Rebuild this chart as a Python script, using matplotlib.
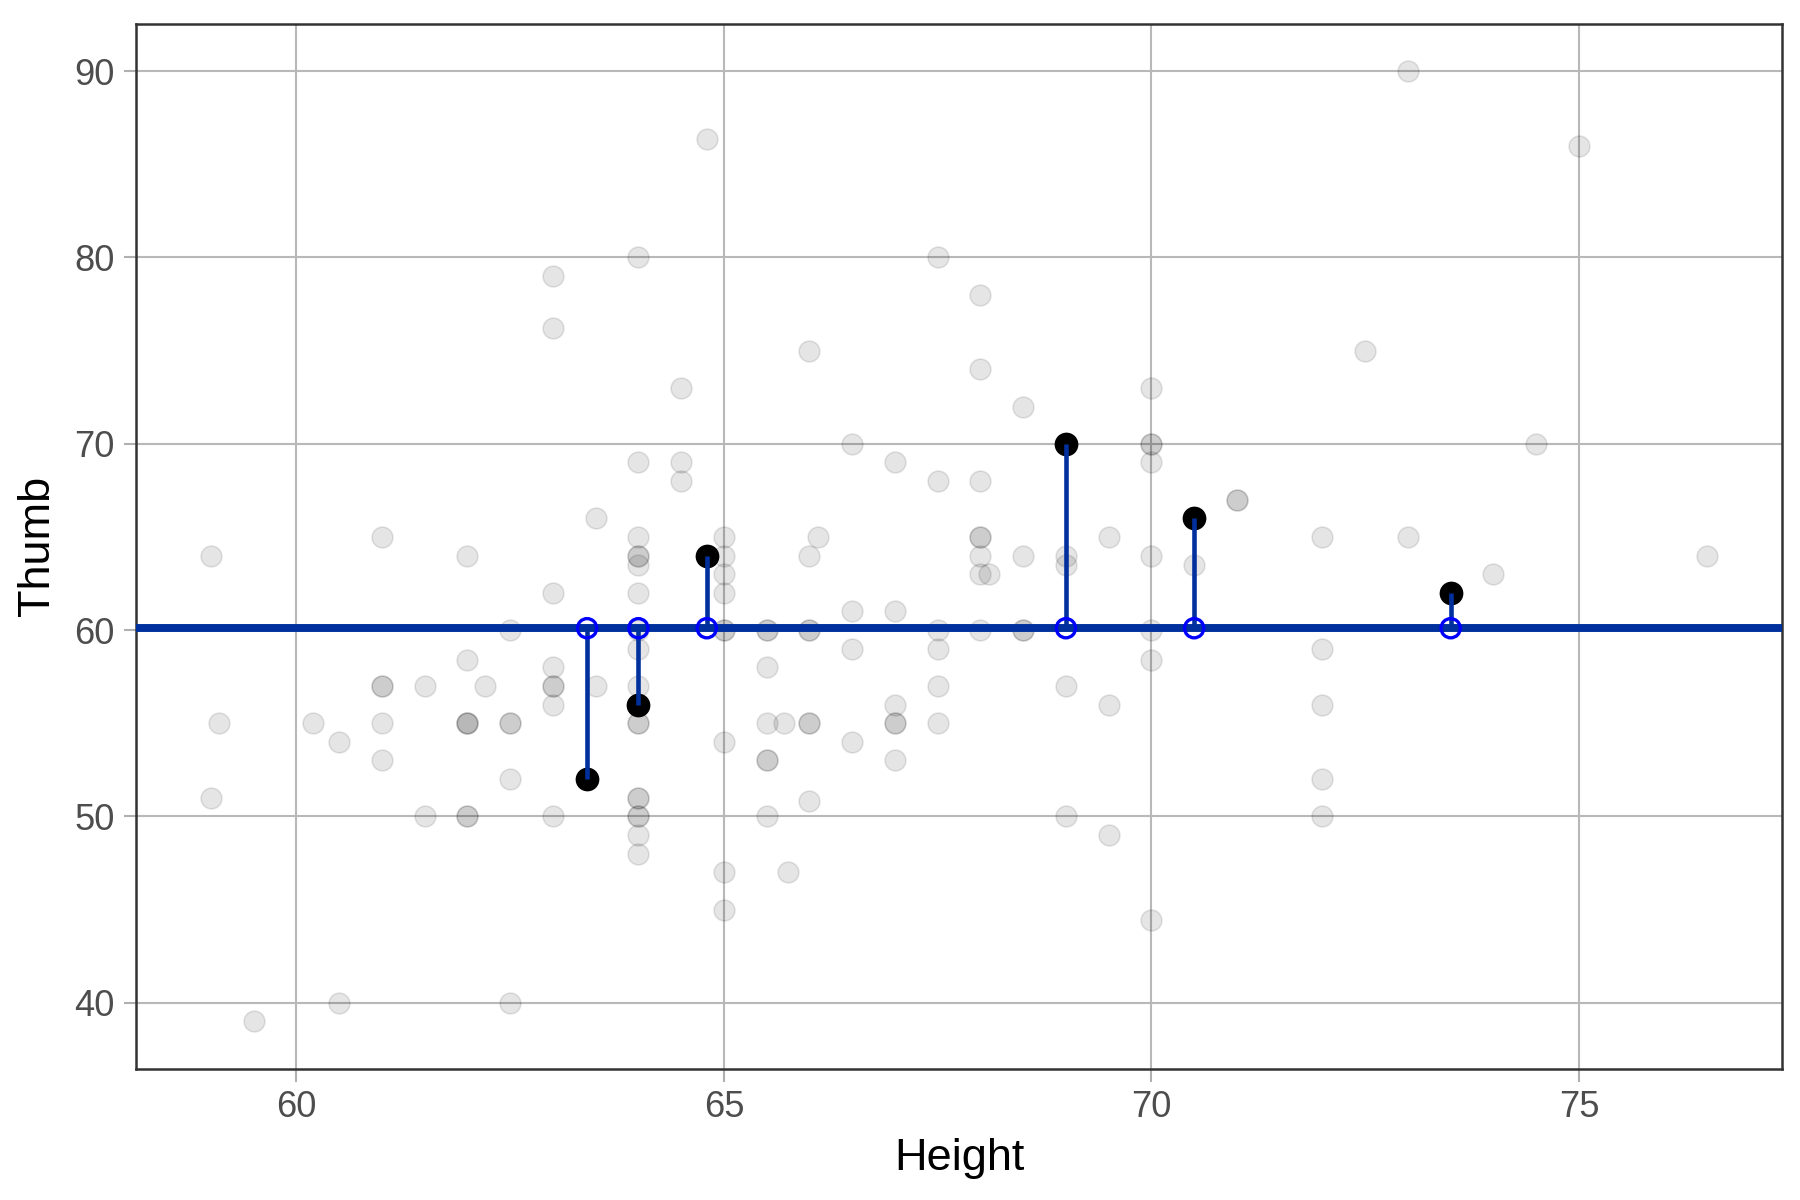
import matplotlib
matplotlib.use("Agg")
import matplotlib.pyplot as plt

# all students (gray cloud)
height = [
    59, 59.1, 59, 59.5, 60.2, 60.5, 60.5,
    61, 61, 61, 61, 61, 61.5, 61.5,
    62, 62, 62, 62, 62, 62, 62, 62.2,
    62.5, 62.5, 62.5, 62.5, 62.5,
    63, 63, 63, 63, 63, 63, 63, 63, 63.5, 63.5,
    64, 64, 64, 64, 64, 64, 64, 64, 64, 64, 64, 64, 64, 64, 64, 64, 64, 64,
    64.5, 64.5, 64.5, 64.8,
    65, 65, 65, 65, 65, 65, 65, 65, 65,
    65.5, 65.5, 65.5, 65.5, 65.5, 65.5, 65.5, 65.7, 65.75,
    66, 66, 66.1, 66, 66, 66, 66, 66,
    66.5, 66.5, 66.5, 66.5,
    67, 67, 67, 67, 67, 67,
    67.5, 67.5, 67.5, 67.5, 67.5, 67.5,
    68, 68, 68, 68, 68, 68, 68, 68.1, 68,
    68.5, 68.5, 68.5, 68.5,
    69, 69, 69, 69,
    69.5, 69.5, 69.5,
    70, 70, 70, 70, 70, 70, 70, 70,
    70.5, 71, 71,
    72, 72, 72, 72, 72, 72.5,
    73, 73, 74, 74.5, 75, 76.5,
    63.4, 64, 64.8, 69, 70.5, 73.5,
]
thumb = [
    64, 55, 51, 39, 55, 54, 40,
    65, 57, 57, 55, 53, 57, 50,
    64, 58.42, 55, 55, 55, 50, 50, 57,
    60, 55, 55, 52, 40,
    79, 76.2, 62, 58, 57, 57, 56, 50, 66, 57,
    80, 69, 65, 64, 64, 63.5, 62, 60, 59, 57, 55, 55, 51, 51, 50, 50, 49, 48,
    73, 69, 68, 86.36,
    65, 64, 63, 62, 60, 60, 54, 47, 45,
    60, 60, 58, 55, 53, 53, 50, 55, 47,
    75, 64, 65, 60, 60, 55, 55, 50.8,
    70, 61, 59, 54,
    69, 61, 56, 55, 55, 53,
    80, 68, 60, 59, 57, 55,
    78, 74, 68, 65, 65, 64, 63, 63, 60,
    72, 64, 60, 60,
    64, 63.5, 57, 50,
    65, 56, 49,
    73, 70, 70, 69, 64, 60, 58.42, 44.45,
    63.5, 67, 67,
    65, 59, 56, 52, 50, 75,
    90, 65, 63, 70, 86, 64,
    52, 56, 64, 70, 66, 62,
]

# highlighted sample
sample_height = [63.4, 64, 64.8, 69, 70.5, 73.5]
sample_thumb = [52, 56, 64, 70, 66, 62]

mean_thumb = 60.1

x_ticks = [60, 65, 70, 75]
y_ticks = [40, 50, 60, 70, 80, 90]

line_blue = "#00309d"

plt.rcParams["font.family"] = ["Liberation Sans", "DejaVu Sans"]

fig = plt.figure(figsize=(12, 8), dpi=150)
ax = fig.add_axes([0.0756, 0.1093, 0.9144, 0.871])

ax.scatter(height, thumb, s=100, c="black", alpha=0.1, linewidths=0.8,
           edgecolors="black", zorder=2)
ax.scatter(sample_height, sample_thumb, s=130, c="black", linewidths=0, zorder=3)
ax.axhline(mean_thumb, color=line_blue, linewidth=3.8, zorder=4)
ax.vlines(sample_height, [mean_thumb] * len(sample_height), sample_thumb,
          color=line_blue, linewidth=2.2, zorder=5)
ax.scatter(sample_height, [mean_thumb] * len(sample_height), s=85,
           facecolors="none", edgecolors="#0000ff", linewidths=1.6, zorder=6)

ax.set_xlim(58.125, 77.375)
ax.set_ylim(36.45, 92.55)
ax.set_xticks(x_ticks)
ax.set_yticks(y_ticks)

ax.grid(True, color="#b8b8b8", linewidth=1.0, zorder=0)
ax.set_axisbelow(True)
for spine in ax.spines.values():
    spine.set_color("#333333")
    spine.set_linewidth(1.2)

ax.tick_params(axis="both", length=6, width=1.0, color="#b0b0b0",
               labelcolor="#4d4d4d", labelsize=17.4, pad=4.3)

ax.set_xlabel("Height", fontsize=21.7, color="black", labelpad=6)
ax.set_ylabel("Thumb", fontsize=21.7, color="black", labelpad=8)

fig.savefig("out.png", dpi=150, facecolor="white")
